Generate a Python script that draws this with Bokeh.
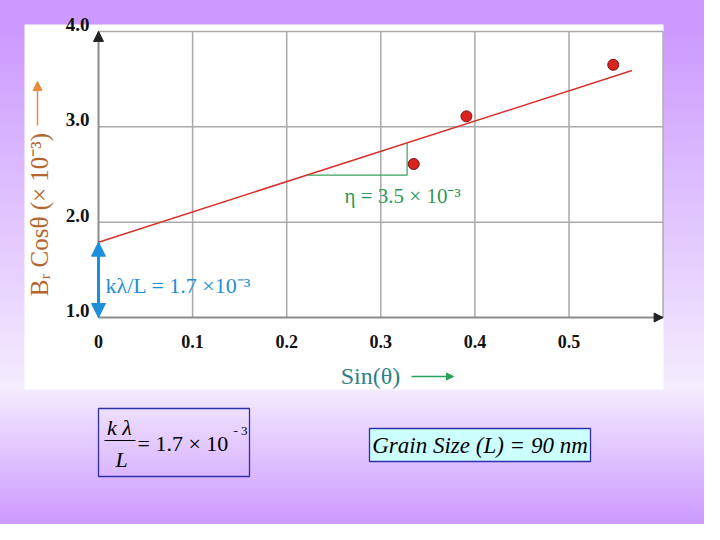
import math
from bokeh.plotting import figure
from bokeh.models import Range1d, Label, Arrow, NormalHead, BoxAnnotation
from bokeh.core.properties import value
from bokeh.embed import file_html
from bokeh.resources import INLINE

# ---------------- data ----------------
sin_theta = [0.335, 0.391, 0.547]
beta_cos = [2.61, 3.11, 3.65]
fit_x = [0.0, 0.567]
fit_y = [1.79, 3.59]
slope_tri_x = [0.222, 0.328, 0.328]
slope_tri_y = [2.493, 2.493, 2.83]
x_ticks = [0, 0.1, 0.2, 0.3, 0.4, 0.5]
x_tick_labels = ["0", "0.1", "0.2", "0.3", "0.4", "0.5"]
y_ticks = [1, 2, 3, 4]
y_tick_labels = ["1.0", "2.0", "3.0", "4.0"]
x_grid = [0.1, 0.2, 0.3, 0.4, 0.5, 0.6]
y_grid = [2, 3, 4]
x_min, x_max = 0.0, 0.6
y_min, y_max = 1.0, 4.0
x_label = "Sin(θ)"
y_label = "Bᵣ Cosθ (× 10⁻³)"
intercept_label = "kλ/L = 1.7 ×10⁻³"
slope_label = "η = 3.5 × 10⁻³"
grain_label = "Grain Size (L) = 90 nm"

SERIF = "Liberation Serif"

# ---------------- figure: frame covers the whole canvas ----------------
W, H = 704, 524
PX_X, PX_Y = 941.0, 95.35        # pixels per data unit
ORIG_X, ORIG_Y = 98.0, 317.0     # canvas position of (0, 1)
p = figure(width=W, height=H, output_backend="svg", toolbar_location=None,
           x_range=Range1d(-ORIG_X / PX_X, (W - ORIG_X) / PX_X),
           y_range=Range1d(y_min - (H - ORIG_Y) / PX_Y, y_min + ORIG_Y / PX_Y),
           min_border=0, x_axis_location=None, y_axis_location=None, title=None)
p.grid.visible = False
p.border_fill_alpha = 0
p.background_fill_alpha = 0
p.outline_line_color = None
p.styles = {"background": "linear-gradient(to bottom, #cc99ff 0%, #cc99ff 5%, #f4ecff 74%, #cc99ff 100%)"}

# reference-page pixel -> data helpers for annotation placement
def X(px):
    return (px - 106) / PX_X

def Y(py):
    return y_min + (325 - py) / PX_Y

# white chart panel
p.add_layout(BoxAnnotation(left=X(32), right=X(671), top=Y(32), bottom=Y(397),
                           fill_color="white", fill_alpha=1.0, line_color=None,
                           level="image"))

# grid lines
grid_col = "#a9a9a9"
p.segment(x0=x_grid, y0=[y_min] * len(x_grid), x1=x_grid, y1=[y_max] * len(x_grid),
          line_color=grid_col, line_width=1.5)
p.segment(x0=[x_min] * len(y_grid), y0=y_grid, x1=[x_max] * len(y_grid), y1=y_grid,
          line_color=grid_col, line_width=1.5)
# axis lines
p.segment(x0=[x_min, x_min], y0=[y_min, y_min], x1=[x_max, x_min], y1=[y_min, y_max],
          line_color="#8c8c8c", line_width=2)

# tick labels
p.text(x=x_ticks, y=[y_min] * len(x_ticks), text=x_tick_labels, y_offset=24,
       text_align="center", text_baseline="middle", text_font=value(SERIF),
       text_font_style="bold", text_font_size="18px", text_color="#111111")
p.text(x=[x_min] * len(y_ticks), y=y_ticks, text=y_tick_labels, x_offset=-9, y_offset=-7,
       text_align="right", text_baseline="middle", text_font=value(SERIF),
       text_font_style="bold", text_font_size="19px", text_color="#111111")

# axis arrow heads
p.add_layout(Arrow(x_start=x_max - 0.02, y_start=y_min, x_end=x_max, y_end=y_min, line_alpha=0,
                   end=NormalHead(size=9, fill_color="#222222", line_color="#222222")))
p.add_layout(Arrow(x_start=x_min, y_start=y_max - 0.15, x_end=x_min, y_end=y_max, line_alpha=0,
                   end=NormalHead(size=10, fill_color="#222222", line_color="#222222")))

# fit line, slope triangle, points
p.line(fit_x, fit_y, line_color="#d9302c", line_width=1.5)
p.line(slope_tri_x, slope_tri_y, line_color="#3aa35c", line_width=1.2)
p.scatter(sin_theta, beta_cos, size=11, fill_color="#d8231f", line_color="#7a1212",
          line_width=1)

# intercept double arrow
blue = "#1b8fd8"
p.add_layout(Arrow(x_start=x_min, y_start=y_min, x_end=x_min, y_end=fit_y[0],
                   line_color=blue, line_width=3,
                   start=NormalHead(size=14, fill_color=blue, line_color=blue),
                   end=NormalHead(size=14, fill_color=blue, line_color=blue)))

p.add_layout(Label(x=X(113), y=Y(293), text=intercept_label, text_align="left",
                   text_baseline="middle", text_font=SERIF, text_font_size="22px",
                   text_color="#1f8fd4"))
p.add_layout(Label(x=X(352), y=Y(203), text=slope_label, text_align="left",
                   text_baseline="middle", text_font=SERIF, text_font_size="21px",
                   text_color="#2f9a55"))

# axis titles with arrows
p.add_layout(Label(x=X(47), y=Y(222), text=y_label, angle=math.pi / 2,
                   text_align="center", text_baseline="middle", text_font=SERIF,
                   text_font_size="25px", text_color="#b3652d"))
orange = "#e88b3a"
p.add_layout(Arrow(x_start=X(45), y_start=Y(133), x_end=X(45), y_end=Y(89),
                   line_color=orange, line_width=1.5,
                   end=NormalHead(size=9, fill_color=orange, line_color=orange)))
p.add_layout(Label(x=X(378), y=Y(383), text=x_label, text_align="center",
                   text_baseline="middle", text_font=SERIF, text_font_size="24px",
                   text_color="#2e7f88"))
green = "#27a05b"
p.add_layout(Arrow(x_start=X(419), y_start=Y(384), x_end=X(461), y_end=Y(384),
                   line_color=green, line_width=1.5,
                   end=NormalHead(size=7, fill_color=green, line_color=green)))

# formula box 1
box_line = "#2f2fa8"
p.add_layout(BoxAnnotation(left=X(106), right=X(257), top=Y(416), bottom=Y(484),
                           fill_alpha=0, line_color=box_line, line_alpha=1.0,
                           line_width=1.3))
p.add_layout(Label(x=X(127), y=Y(435), text="k λ", text_align="center",
                   text_baseline="middle", text_font=SERIF, text_font_style="italic",
                   text_font_size="22px", text_color="black"))
p.add_layout(Arrow(x_start=X(112), y_start=Y(448), x_end=X(143), y_end=Y(448),
                   start=None, end=None, line_color="black", line_width=1))
p.add_layout(Label(x=X(129), y=Y(467), text="L", text_align="center",
                   text_baseline="middle", text_font=SERIF, text_font_style="italic",
                   text_font_size="22px", text_color="black"))
p.add_layout(Label(x=X(145), y=Y(451), text="= 1.7 × 10", text_align="left",
                   text_baseline="middle", text_font=SERIF,
                   text_font_size="22px", text_color="black"))
p.add_layout(Label(x=X(241), y=Y(438), text="- 3", text_align="left",
                   text_baseline="middle", text_font=SERIF,
                   text_font_size="13px", text_color="black"))

# formula box 2
p.add_layout(BoxAnnotation(left=X(377), right=X(598), top=Y(436), bottom=Y(469),
                           fill_color="#ccffff", fill_alpha=1.0, line_color=box_line,
                           line_alpha=1.0, line_width=1.3))
p.add_layout(Label(x=X(487.5), y=Y(452.5), text=grain_label, text_align="center",
                   text_baseline="middle", text_font=SERIF, text_font_style="italic",
                   text_font_size="23px", text_color="black"))

open("out.html", "w").write(file_html(p, INLINE))
